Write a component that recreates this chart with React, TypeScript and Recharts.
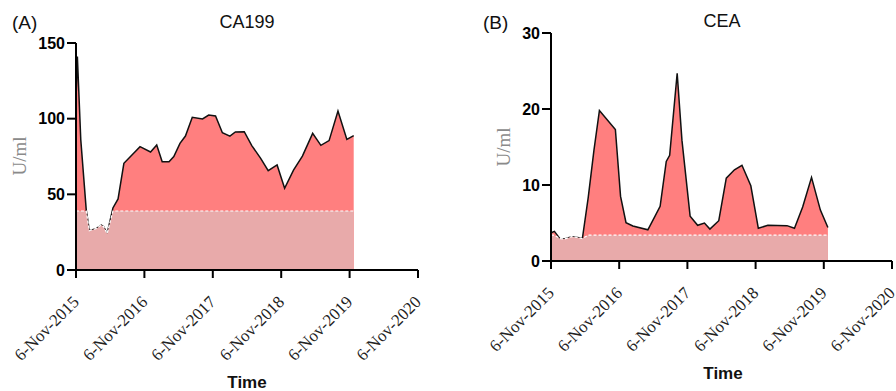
import React from "react";
import { ComposedChart, Area, XAxis, YAxis } from "recharts";

// ---------- Data ----------
const xTickValues = [0, 1, 2, 3, 4, 5];
const xTickLabels = ["6-Nov-2015", "6-Nov-2016", "6-Nov-2017", "6-Nov-2018", "6-Nov-2019", "6-Nov-2020"];

// years since 6-Nov-2015
const caTime = [0, 0.02, 0.07, 0.15, 0.195, 0.3, 0.37, 0.405, 0.455, 0.54, 0.615, 0.7, 0.936, 1.09, 1.18, 1.26, 1.36, 1.43, 1.52, 1.6, 1.7, 1.85, 1.94, 2.04, 2.14, 2.25, 2.33, 2.46, 2.57, 2.7, 2.81, 2.94, 3.05, 3.18, 3.31, 3.46, 3.58, 3.7, 3.83, 3.96, 4.06];
const caValues = [112, 141, 86, 39.6, 26, 27.5, 29.7, 28.6, 24, 41, 47, 70.5, 81.5, 78, 82.6, 71.6, 71.6, 75, 83.7, 88.5, 100.9, 99.8, 102.4, 101.8, 90.7, 88.5, 91.2, 91.4, 82.2, 73.8, 65.6, 69.4, 54, 66, 75.3, 90.3, 82.4, 85.5, 105, 86.3, 88.8];
const caThreshold = 39;
const caYTicks = [0, 50, 100, 150];

const ceaTime = [0, 0.05, 0.13, 0.2, 0.3, 0.39, 0.46, 0.545, 0.63, 0.71, 0.944, 1.02, 1.1, 1.2, 1.42, 1.52, 1.6, 1.69, 1.74, 1.85, 1.92, 2.04, 2.15, 2.25, 2.33, 2.46, 2.57, 2.69, 2.8, 2.93, 3.04, 3.18, 3.46, 3.57, 3.69, 3.82, 3.95, 4.06];
const ceaValues = [3.7, 3.9, 2.95, 2.9, 3.2, 3.1, 2.95, 8.3, 14.6, 19.8, 17.3, 8.5, 5.05, 4.6, 4.1, 5.8, 7.2, 13.1, 13.9, 24.7, 15.9, 5.9, 4.7, 5.0, 4.2, 5.3, 10.9, 12.0, 12.6, 9.9, 4.3, 4.7, 4.65, 4.3, 7.1, 11.0, 6.7, 4.4];
const ceaThreshold = 3.4;
const ceaYTicks = [0, 10, 20, 30];

// ---------- Styles ----------
const RED = "#FF7F7F";
const PINK = "#E8AAAA";
const SANS = "'Liberation Sans', Arial, sans-serif";
const SERIF = "'Liberation Serif', 'Times New Roman', serif";

function buildRows(times: number[], values: number[], thr: number) {
  return times.map((t, i) => ({ t, v: values[i], low: Math.min(values[i], thr) }));
}

const XTick = (props: any) => {
  const { x, y, payload } = props;
  const idx = xTickValues.indexOf(payload.value);
  const tx = x + 4;
  const ty = y + 23;
  return (
    <text
      x={tx}
      y={ty}
      transform={`rotate(-45 ${tx} ${ty})`}
      textAnchor="end"
      fontFamily={SERIF}
      fontSize={17}
      fill="#222"
    >
      {xTickLabels[idx]}
    </text>
  );
};

type PanelProps = {
  rows: any[];
  yMax: number;
  yTicks: number[];
  width: number;
  height: number;
  top: number;
  bottom: number;
  yAxisWidth: number;
  right: number;
};

const Panel = ({ rows, yMax, yTicks, width, height, top, bottom, yAxisWidth, right }: PanelProps) => (
  <ComposedChart
    width={width}
    height={height}
    data={rows}
    margin={{ top, right, bottom: 0, left: 0 }}
  >
    <Area
      type="linear"
      dataKey="v"
      stroke="#111"
      strokeWidth={1.5}
      fill={RED}
      fillOpacity={1}
      isAnimationActive={false}
      dot={false}
      activeDot={false}
    />
    <Area
      type="linear"
      dataKey="low"
      stroke="#ffffff"
      strokeWidth={1.2}
      strokeDasharray="3 2"
      fill={PINK}
      fillOpacity={1}
      isAnimationActive={false}
      dot={false}
      activeDot={false}
    />
    <XAxis
      type="number"
      dataKey="t"
      domain={[0, 5]}
      ticks={xTickValues}
      interval={0}
      height={bottom}
      tickSize={8}
      tickMargin={2}
      axisLine={{ stroke: "#000", strokeWidth: 2 }}
      tickLine={{ stroke: "#000", strokeWidth: 2 }}
      tick={<XTick />}
      allowDataOverflow
    />
    <YAxis
      type="number"
      domain={[0, yMax]}
      ticks={yTicks}
      interval={0}
      width={yAxisWidth}
      tickSize={9}
      tickMargin={2}
      axisLine={{ stroke: "#000", strokeWidth: 2 }}
      tickLine={{ stroke: "#000", strokeWidth: 2 }}
      tick={{ fill: "#000", fontFamily: SANS, fontSize: 16, fontWeight: 700 }}
    />
  </ComposedChart>
);

const abs = (left: number, top: number, extra: React.CSSProperties = {}): React.CSSProperties => ({
  position: "absolute",
  left,
  top,
  whiteSpace: "nowrap",
  lineHeight: 1,
  ...extra,
});

export default function App() {
  const caRows = buildRows(caTime, caValues, caThreshold);
  const ceaRows = buildRows(ceaTime, ceaValues, ceaThreshold);
  return (
    <div style={{ position: "absolute", left: 0, top: 0, width: 896, height: 391, background: "#fff", overflow: "hidden" }}>
      <div style={abs(0, 0)}>
        <Panel rows={caRows} yMax={150} yTicks={caYTicks} width={440} height={391} top={43} bottom={121} yAxisWidth={76} right={22} />
      </div>
      <div style={abs(440, 0)}>
        <Panel rows={ceaRows} yMax={30} yTicks={ceaYTicks} width={456} height={391} top={33} bottom={130} yAxisWidth={111} right={4} />
      </div>

      <div style={abs(12, 13, { fontFamily: SANS, fontSize: 19, color: "#111" })}>(A)</div>
      <div style={abs(247, 13, { fontFamily: SANS, fontSize: 18, color: "#111", transform: "translateX(-50%)" })}>CA199</div>
      <div style={abs(247, 374, { fontFamily: SANS, fontSize: 17, fontWeight: 700, color: "#111", transform: "translateX(-50%)" })}>Time</div>
      <div style={abs(19, 156, { fontFamily: SERIF, fontSize: 19, color: "#8a8a8a", transform: "translate(-50%, -50%) rotate(-90deg)" })}>U/ml</div>

      <div style={abs(483, 13, { fontFamily: SANS, fontSize: 19, color: "#111" })}>(B)</div>
      <div style={abs(722, 12, { fontFamily: SANS, fontSize: 18, color: "#111", transform: "translateX(-50%)" })}>CEA</div>
      <div style={abs(723, 365, { fontFamily: SANS, fontSize: 17, fontWeight: 700, color: "#111", transform: "translateX(-50%)" })}>Time</div>
      <div style={abs(503, 147, { fontFamily: SERIF, fontSize: 19, color: "#8a8a8a", transform: "translate(-50%, -50%) rotate(-90deg)" })}>U/ml</div>
    </div>
  );
}
